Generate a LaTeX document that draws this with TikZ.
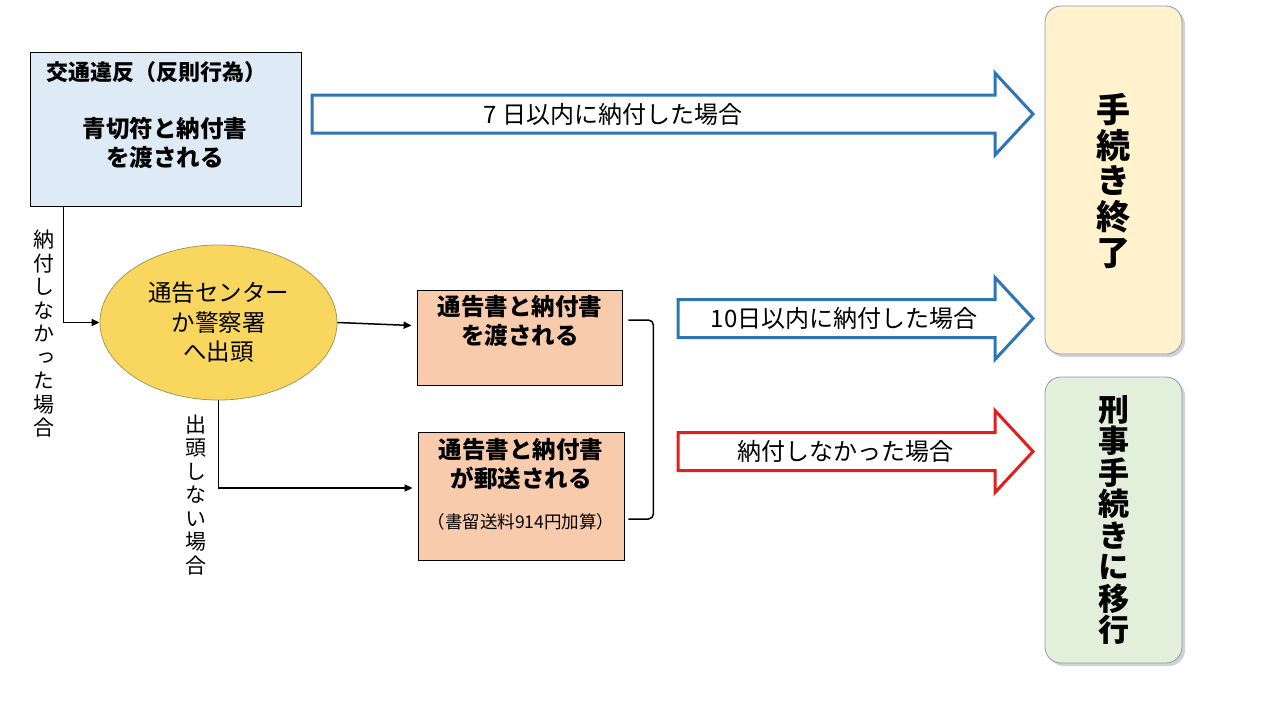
\documentclass[tikz,border=0pt]{standalone}
\usepackage{fontspec}
\setmainfont{Noto Sans CJK JP}
\newfontfamily\jpv{Noto Sans CJK JP}[RawFeature=+vert]
\usetikzlibrary{shapes.geometric,arrows.meta,shadows}
\definecolor{boxblue}{HTML}{DEEBF7}
\definecolor{ellfill}{HTML}{F9D65E}
\definecolor{elldraw}{HTML}{A09C5C}
\definecolor{peach}{HTML}{F8CBAD}
\definecolor{endfill}{HTML}{FFF2CC}
\definecolor{crimfill}{HTML}{E2EFDA}
\definecolor{roundedge}{HTML}{8A9BB0}
\definecolor{arrblue}{HTML}{2E75B6}
\definecolor{arrred}{HTML}{E0201F}
\tikzset{
  plainbox/.style={draw=black, line width=0.8pt, rectangle, inner sep=0pt},
  resultbox/.style={draw=roundedge, line width=0.8pt, rounded corners=16pt, inner sep=0pt,
     drop shadow={shadow xshift=3pt, shadow yshift=-3pt, opacity=0.35}},
  conn/.style={line width=1.5pt, -{Triangle[length=8pt,width=7pt]}},
  fatarrow/.style={line width=3pt, fill=white, line join=miter},
  boldtxt/.style={font=\fontsize{23.5}{29}\selectfont\bfseries, align=center, inner sep=0pt},
  normtxt/.style={font=\fontsize{23.5}{29.5}\selectfont, align=center, inner sep=0pt},
  arrtxt/.style={font=\fontsize{24}{29}\selectfont, inner sep=0pt},
  vlabel/.style={font=\jpv\fontsize{21}{23.5}\selectfont, align=center, inner sep=0pt},
  vbig/.style={font=\jpv\fontsize{34}{35.6}\selectfont\bfseries, align=center, inner sep=0pt},
  vbigb/.style={font=\jpv\fontsize{31}{31.5}\selectfont\bfseries, align=center, inner sep=0pt}
}
\newcommand\fatarr[4]{% tail x, centre y, colour, name
  \draw[fatarrow, draw=#3] (#1,#2-19) -- (995,#2-19) -- (995,#2-41) -- (1033,#2)
     -- (995,#2+41) -- (995,#2+19) -- (#1,#2+19) -- cycle;
  \coordinate (#4) at ({(#1+995)/2},#2);
}
\begin{document}
\begin{tikzpicture}[x=1pt,y=-1pt]
\useasboundingbox (0,0) rectangle (1280,720);
\fill[white] (0,0) rectangle (1280,720);

% box 1
\node[plainbox, fill=boxblue, minimum width=271pt, minimum height=154pt] (box1) at (165.5,129) {};
\node[boldtxt, font=\fontsize{22}{29}\selectfont\bfseries, anchor=west] (t1a) at (46,72) {交通違反（反則行為）};
\node[boldtxt] (t1b) at (165,142.5) {青切符と納付書\\を渡される};

% ellipse
\node[ellipse, draw=elldraw, line width=0.8pt, fill=ellfill, minimum width=237pt, minimum height=155pt,
      normtxt, inner sep=0pt] (ell) at (218.5,322.5) {通告センター\\か警察署\\へ出頭};

% box 2, box 3
\node[plainbox, fill=peach, minimum width=205pt, minimum height=95pt] (box2) at (519.5,337.5) {};
\node[boldtxt] (t2) at (520,321) {通告書と納付書\\を渡される};
\node[plainbox, fill=peach, minimum width=206pt, minimum height=128pt] (box3) at (521,496) {};
\node[boldtxt] (t3) at (521,464.5) {通告書と納付書\\が郵送される};
\node[font=\fontsize{17.5}{19}\selectfont, inner sep=0pt] (t3s) at (521,522) {（書留送料914円加算）};

% result boxes
\node[resultbox, fill=endfill, minimum width=137pt, minimum height=348pt] (endbox) at (1113.5,180) {};
\node[vbig] at (1113.5,181) {手\\続\\き\\終\\了};
\node[resultbox, fill=crimfill, minimum width=137pt, minimum height=286pt] (crimbox) at (1113.5,520) {};
\node[vbigb] at (1113.5,520) {刑\\事\\手\\続\\き\\に\\移\\行};

% connectors
\coordinate (b1out) at ([xshift=34pt]box1.south west);
\draw[conn] (b1out) |- (ell.west);
\node[vlabel] (lab1) at (44,334) {納\\付\\し\\な\\か\\っ\\た\\場\\合};
\draw[conn] (ell.east) -- ([xshift=-5pt,yshift=12pt]box2.west);
\draw[conn] (ell.south) |- ([xshift=-5pt,yshift=8pt]box3.west);
\node[vlabel] (lab2) at (196,495) {出\\頭\\し\\な\\い\\場\\合};

% bracket
\coordinate (br1) at ([xshift=6pt,yshift=17.5pt]box2.east);
\coordinate (br2) at ([xshift=4pt,yshift=-23pt]box3.east);
\draw[line width=1.5pt, rounded corners=5pt] (br1) -- ++(25,0) |- (br2);

% fat arrows
\fatarr{312}{114}{arrblue}{a1}
\node[arrtxt] at (613,114) {7 日以内に納付した場合};
\fatarr{678}{318.5}{arrblue}{a2}
\node[arrtxt] at (844,318) {10日以内に納付した場合};
\fatarr{678}{451.5}{arrred}{a3}
\node[arrtxt] at (845,451) {納付しなかった場合};
\end{tikzpicture}
\end{document}
